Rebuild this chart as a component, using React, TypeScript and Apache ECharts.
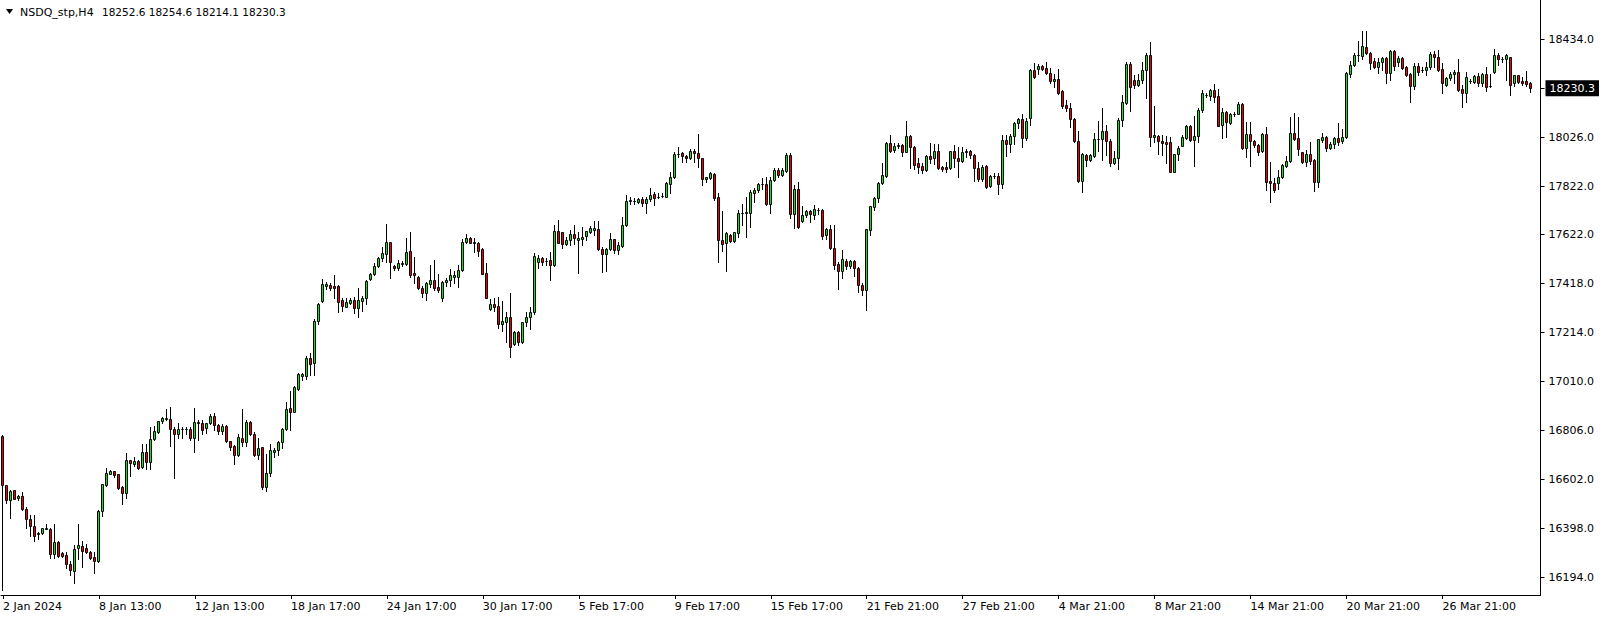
import React, { useEffect, useRef } from "react";
import * as echarts from "echarts";

const symbolName = "NSDQ_stp,H4";
const xLabels = ["2 Jan 2024", "8 Jan 13:00", "12 Jan 13:00", "18 Jan 17:00", "24 Jan 17:00", "30 Jan 17:00", "5 Feb 17:00", "9 Feb 17:00", "15 Feb 17:00", "21 Feb 21:00", "27 Feb 21:00", "4 Mar 21:00", "8 Mar 21:00", "14 Mar 21:00", "20 Mar 21:00", "26 Mar 21:00"];
const barsPerLabel = 24;
const emptyBarsRight = 2;
const yTickValues = [16194, 16398, 16602, 16806, 17010, 17214, 17418, 17622, 17822, 18026, 18434];

const opens = [16784,16578,16515,16556,16523,16531,16478,16437,16406,16374,16377,16397,16395,16290,16340,16295,16287,16249,16222,16318,16326,16316,16298,16279,16261,16469,16578,16626,16635,16623,16569,16544,16681,16667,16677,16653,16714,16675,16768,16799,16843,16852,16853,16813,16789,16812,16812,16811,16775,16842,16836,16817,16835,16866,16828,16805,16823,16760,16741,16702,16774,16759,16841,16791,16703,16735,16571,16627,16717,16723,16759,16812,16898,16884,16978,17034,17034,17106,17085,17263,17345,17407,17411,17407,17406,17349,17321,17338,17347,17317,17345,17356,17435,17456,17489,17522,17542,17589,17490,17480,17497,17497,17553,17461,17444,17400,17379,17417,17432,17403,17358,17422,17430,17443,17443,17474,17590,17607,17591,17585,17560,17460,17311,17330,17324,17247,17258,17278,17164,17217,17172,17256,17280,17300,17507,17523,17512,17515,17493,17636,17632,17580,17598,17622,17597,17603,17616,17633,17641,17644,17561,17539,17561,17601,17558,17575,17661,17762,17762,17758,17768,17751,17768,17788,17777,17780,17779,17833,17859,17955,17959,17949,17938,17969,17959,17938,17851,17855,17873,17779,17598,17584,17619,17594,17626,17711,17712,17710,17793,17805,17830,17830,17748,17848,17890,17869,17886,17952,17705,17811,17679,17703,17719,17703,17723,17722,17620,17643,17564,17497,17470,17511,17492,17511,17480,17411,17389,17640,17737,17772,17834,17866,18001,17973,17990,17994,17966,18031,17987,17917,17906,17890,17949,17938,17969,17902,17902,17897,17967,17941,17927,17966,17969,17952,17897,17852,17906,17824,17866,17865,17830,18015,17997,18031,18084,18101,18022,18107,18306,18312,18321,18315,18294,18259,18269,18219,18159,18147,18102,18011,17845,17952,17931,17950,18018,18018,18052,18011,17920,17938,18097,18167,18330,18264,18244,18264,18306,18369,18026,18031,18011,18006,18005,17883,17955,17991,18024,18072,18013,18030,18138,18202,18199,18223,18197,18077,18130,18084,18124,18125,18163,17980,18038,18011,17994,17969,18038,17844,17834,17834,17862,17908,17927,18043,18022,17963,17922,17955,17931,17841,18016,18027,17981,17997,18023,18009,18026,18288,18327,18367,18364,18402,18378,18345,18320,18338,18356,18292,18387,18338,18357,18319,18289,18241,18323,18306,18306,18317,18373,18359,18309,18244,18271,18288,18298,18228,18209,18260,18258,18281,18253,18289,18241,18299,18369,18352,18351,18359,18251,18285,18260,18260,18252.6];
const highs = [16787,16578,16558,16559,16537,16549,16485,16455,16453,16384,16401,16416,16401,16416,16347,16301,16301,16263,16330,16415,16347,16333,16303,16299,16474,16581,16648,16639,16638,16626,16576,16710,16681,16695,16681,16748,16748,16818,16823,16847,16863,16897,16903,16821,16835,16820,16818,16818,16900,16849,16849,16836,16873,16877,16832,16834,16830,16763,16745,16789,16895,16848,16846,16798,16775,16738,16706,16748,16734,16763,16816,16923,16970,16992,17045,17045,17114,17128,17268,17335,17436,17425,17418,17453,17411,17356,17356,17356,17361,17397,17365,17431,17461,17501,17529,17568,17665,17592,17494,17514,17511,17605,17630,17528,17449,17408,17425,17494,17515,17455,17428,17442,17479,17469,17494,17603,17623,17611,17608,17589,17564,17501,17351,17356,17362,17344,17297,17376,17220,17221,17258,17300,17320,17543,17536,17526,17523,17547,17661,17682,17633,17612,17640,17661,17633,17654,17637,17657,17676,17679,17571,17564,17629,17603,17592,17693,17786,17779,17772,17772,17779,17776,17813,17800,17793,17793,17838,17883,17963,17987,17966,17952,17977,17977,18040,17941,17862,17880,17876,17793,17719,17633,17622,17633,17723,17747,17779,17807,17814,17834,17858,17862,17862,17900,17900,17897,17959,17959,17828,17839,17741,17723,17723,17744,17733,17728,17647,17661,17661,17508,17557,17519,17515,17515,17487,17418,17645,17741,17779,17841,17918,18005,18036,18001,18001,17997,18094,18036,17991,17938,17917,17952,18001,17997,17997,17906,17924,17970,17994,17987,17987,17977,17974,17955,17924,17911,17911,17869,17876,17876,18036,18036,18038,18091,18105,18121,18105,18310,18334,18331,18327,18338,18313,18288,18312,18223,18180,18167,18108,18052,17959,17956,17956,18043,18094,18149,18077,18019,17969,18105,18202,18341,18338,18285,18288,18341,18376,18421,18158,18036,18036,18031,18029,17958,17990,18035,18077,18077,18113,18149,18224,18209,18227,18247,18227,18147,18135,18127,18130,18172,18167,18088,18088,18015,17997,18042,18070,17922,17858,17890,17913,17949,18112,18128,18112,17966,17973,18006,17934,18020,18042,18031,18008,18029,18084,18059,18299,18344,18375,18427,18468,18468,18382,18355,18355,18362,18359,18389,18389,18364,18362,18323,18292,18337,18337,18320,18339,18380,18387,18389,18337,18278,18299,18306,18351,18244,18299,18267,18285,18292,18292,18320,18289,18392,18376,18359,18371,18362,18285,18285,18278,18303,18254.6];
const lows = [16141,16505,16442,16521,16516,16474,16401,16365,16344,16355,16373,16394,16273,16273,16280,16280,16234,16204,16169,16269,16238,16294,16269,16213,16258,16451,16576,16623,16610,16563,16498,16523,16617,16657,16646,16650,16645,16645,16766,16793,16836,16849,16742,16606,16773,16775,16789,16767,16717,16767,16792,16796,16832,16807,16789,16791,16757,16723,16667,16699,16742,16742,16787,16700,16685,16562,16553,16617,16696,16703,16734,16809,16809,16881,16974,17016,17020,17036,17036,17250,17339,17395,17390,17356,17300,17303,17321,17332,17293,17279,17303,17333,17432,17453,17486,17511,17508,17442,17473,17473,17492,17494,17446,17418,17394,17362,17347,17404,17392,17381,17346,17408,17408,17418,17404,17469,17587,17586,17550,17533,17455,17356,17308,17302,17233,17220,17175,17113,17161,17161,17168,17240,17230,17290,17480,17494,17494,17432,17490,17585,17566,17576,17578,17580,17460,17578,17598,17629,17619,17557,17467,17471,17557,17543,17540,17571,17657,17748,17748,17754,17740,17709,17762,17744,17772,17777,17776,17793,17855,17945,17922,17925,17935,17922,17904,17827,17838,17852,17765,17508,17552,17469,17591,17591,17612,17663,17612,17654,17758,17800,17811,17744,17709,17844,17862,17866,17880,17689,17650,17650,17675,17696,17675,17686,17707,17603,17603,17561,17478,17394,17442,17478,17483,17450,17383,17369,17307,17619,17723,17755,17830,17862,17963,17963,17980,17950,17963,17897,17894,17876,17876,17887,17918,17913,17894,17886,17880,17894,17904,17862,17922,17945,17938,17844,17844,17844,17816,17820,17855,17788,17816,17949,17966,17997,18066,17987,18015,18077,18274,18288,18306,18288,18251,18234,18205,18147,18136,18070,18005,17841,17800,17908,17927,17945,17969,17931,17952,17908,17916,17893,18073,18163,18136,18230,18241,18251,18191,17990,18005,17955,17952,17918,17880,17880,17930,17988,18019,18011,17908,18008,18133,18195,18181,18174,18074,18024,18029,18080,18116,18122,17977,17945,17908,17987,17952,17963,17806,17758,17797,17811,17855,17904,17924,18015,17952,17918,17906,17915,17804,17820,18006,17970,17979,17981,17994,18004,18023,18278,18324,18345,18350,18371,18309,18316,18292,18306,18253,18264,18306,18324,18310,18282,18174,18228,18285,18299,18284,18309,18320,18303,18209,18240,18264,18251,18220,18153,18174,18251,18253,18240,18240,18220,18237,18295,18327,18341,18264,18202,18240,18251,18244,18240,18214.1];
const closes = [16578,16515,16553,16521,16533,16477,16437,16406,16365,16377,16398,16401,16290,16340,16283,16284,16249,16223,16311,16329,16302,16299,16276,16261,16472,16581,16627,16635,16621,16567,16544,16681,16669,16677,16650,16714,16675,16768,16803,16843,16857,16856,16810,16789,16813,16813,16811,16775,16841,16836,16809,16835,16867,16828,16805,16823,16760,16738,16702,16777,16759,16839,16791,16703,16732,16571,16627,16723,16724,16759,16813,16895,16884,16985,17041,17040,17106,17081,17263,17331,17414,17414,17400,17400,17342,17325,17339,17349,17317,17347,17356,17428,17456,17489,17522,17543,17589,17506,17480,17503,17503,17548,17453,17453,17397,17379,17418,17432,17400,17389,17424,17432,17453,17453,17474,17590,17607,17587,17585,17553,17458,17358,17330,17319,17247,17261,17278,17154,17217,17172,17256,17280,17300,17532,17522,17507,17510,17493,17636,17587,17580,17598,17623,17608,17607,17612,17634,17648,17647,17562,17539,17561,17601,17558,17578,17661,17761,17764,17761,17768,17751,17768,17787,17775,17779,17783,17834,17859,17955,17956,17949,17938,17969,17959,17938,17851,17859,17877,17772,17598,17580,17626,17594,17630,17709,17712,17714,17797,17807,17831,17831,17748,17848,17890,17869,17890,17952,17705,17811,17654,17703,17719,17705,17726,17724,17616,17643,17564,17494,17469,17518,17492,17511,17480,17411,17389,17643,17740,17772,17834,17869,18001,17970,17990,17992,17966,18031,17984,17911,17904,17890,17949,17935,17969,17899,17894,17894,17967,17941,17927,17966,17967,17952,17897,17852,17904,17818,17866,17864,17830,18015,17997,18031,18084,18101,18022,18094,18306,18278,18323,18312,18292,18260,18269,18209,18158,18147,18102,18011,17845,17956,17931,17952,18019,18020,18052,18011,17920,17938,18097,18172,18330,18234,18244,18264,18306,18369,18026,18036,18011,18001,17999,17883,17955,17983,18027,18072,18013,18030,18138,18209,18203,18223,18195,18074,18130,18091,18122,18125,18163,17980,18038,18012,17993,17966,18038,17841,17834,17806,17862,17911,17927,18043,18019,17977,17922,17955,17929,17841,18017,18027,17981,17997,18023,18008,18026,18295,18327,18370,18369,18406,18375,18337,18320,18341,18356,18292,18387,18324,18357,18316,18285,18241,18323,18299,18305,18317,18373,18359,18306,18251,18271,18288,18298,18223,18209,18278,18262,18281,18253,18289,18237,18239,18369,18351,18353,18369,18244,18285,18255,18253,18246,18230.3];

const bullColor = "#00F000";
const bearColor = "#F00000";

export default function App() {
  const ref = useRef<HTMLDivElement>(null);
  useEffect(() => {
    document.body.style.margin = "0";
    const chart = echarts.init(ref.current as HTMLDivElement, null, { renderer: "svg" });
    const n = opens.length;
    const last = n - 1;
    const cats = Array.from({ length: n + emptyBarsRight }, (_, i) => String(i));
    const data = opens.map((o, i) => [i, o, closes[i], lows[i], highs[i]]);
    const showLabel = (i: number) => i % barsPerLabel === 0 && i / barsPerLabel < xLabels.length;
    const f1 = (v: number) => v.toFixed(1);
    const headerText = `${f1(opens[last])} ${f1(highs[last])} ${f1(lows[last])} ${f1(closes[last])}`;
    const snap = (v: number) => Math.round(v - 0.5) + 0.5;
    chart.setOption({
      animation: false,
      backgroundColor: "#ffffff",
      textStyle: { fontFamily: "DejaVu Sans" },
      grid: { left: 0.5, right: 63.5, top: 0, bottom: 26 },
      xAxis: {
        type: "category",
        data: cats,
        boundaryGap: true,
        axisLine: { show: true, lineStyle: { color: "#000", width: 1 } },
        axisTick: {
          show: true,
          alignWithLabel: true,
          interval: (i: number) => showLabel(i),
          length: 4,
          lineStyle: { color: "#000" },
        },
        axisLabel: {
          interval: (i: number) => showLabel(i),
          formatter: (_v: string, i: number) => (showLabel(i) ? xLabels[i / barsPerLabel] : ""),
          align: "left",
          color: "#000",
          fontSize: 11,
          margin: 6,
          fontFamily: "DejaVu Sans",
        },
        splitLine: { show: false },
      },
      yAxis: {
        type: "value",
        position: "right",
        min: 16120.6,
        max: 18597.6,
        axisLine: { show: true, lineStyle: { color: "#000", width: 1 } },
        axisTick: {
          show: true,
          customValues: [...yTickValues, closes[last]],
          length: 4,
          lineStyle: { color: "#000" },
        },
        axisLabel: {
          customValues: yTickValues,
          formatter: (v: number) => v.toFixed(1),
          color: "#000",
          fontSize: 11,
          margin: 8,
          fontFamily: "DejaVu Sans",
        },
        splitLine: { show: false },
      },
      series: [
        {
          type: "custom",
          data,
          clip: true,
          encode: { x: 0, y: [1, 2, 3, 4] },
          renderItem: (params: any, api: any) => {
            const idx = api.value(0);
            const o = api.value(1);
            const c = api.value(2);
            const lo = api.value(3);
            const hi = api.value(4);
            const pO = api.coord([idx, o]);
            const pC = api.coord([idx, c]);
            const pL = api.coord([idx, lo]);
            const pH = api.coord([idx, hi]);
            const cx = snap(pO[0]);
            const top = Math.round(Math.min(pO[1], pC[1])) + 0.5;
            const bot = Math.max(Math.round(Math.max(pO[1], pC[1])) + 0.5, top);
            const up = c >= o;
            return {
              type: "group",
              children: [
                {
                  type: "line",
                  shape: { x1: cx, y1: Math.round(pH[1]), x2: cx, y2: Math.round(pL[1]) + 1 },
                  style: { stroke: "#000", lineWidth: 1 },
                },
                {
                  type: "rect",
                  shape: { x: cx - 1, y: top, width: 2, height: bot - top },
                  style: { fill: up ? bullColor : bearColor, stroke: "#000", lineWidth: 1 },
                },
              ],
            };
          },
          markLine: {
            silent: true,
            symbol: "none",
            lineStyle: { color: "rgba(0,0,0,0)", width: 1 },
            data: [{ yAxis: closes[last] }],
            label: {
              show: true,
              position: "end",
              distance: 5,
              formatter: f1(closes[last]),
              backgroundColor: "#000",
              color: "#fff",
              padding: [3, 4, 2, 4],
              fontSize: 11,
              fontFamily: "DejaVu Sans",
            },
          },
        },
      ],
      graphic: [
        {
          type: "polygon",
          shape: { points: [[6, 9], [13, 9], [9.5, 14]] },
          style: { fill: "#000" },
        },
        {
          type: "text",
          x: 20,
          y: 12,
          style: {
            text: symbolName,
            fill: "#000",
            font: "11px 'DejaVu Sans'",
            textVerticalAlign: "middle",
          },
        },
        {
          type: "text",
          x: 102,
          y: 12,
          style: {
            text: headerText,
            fill: "#000",
            font: "10.5px 'DejaVu Sans'",
            textVerticalAlign: "middle",
          },
        },
      ],
    });
    return () => chart.dispose();
  }, []);
  return <div ref={ref} style={{ width: 1604, height: 621 }} />;
}
